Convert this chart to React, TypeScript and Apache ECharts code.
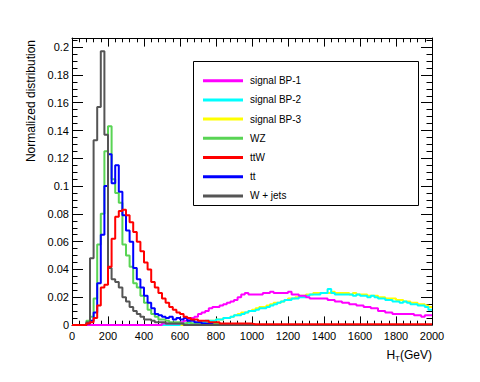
import React, { useEffect, useRef } from "react";
import * as echarts from "echarts";

// H_T bins: 20 GeV wide, from 0 to 2000 GeV (bin low edges = index * BIN_WIDTH)
const BIN_WIDTH = 20;
const X_MIN = 0;
const X_MAX = 2000;
const X_INTERVAL = 200;
const Y_MIN = 0;
const Y_MAX = 0.2066;
const Y_INTERVAL = 0.02;
const Y_MINOR = 0.005;

const seriesNames = ["signal BP-1", "signal BP-2", "signal BP-3", "WZ", "ttW", "tt", "W + jets"];

const signalBP1 = [
  0, 0, 0, 0, 0, 0, 0, 0, 0, 0,
  0, 0, 0, 0, 0, 0, 0, 0, 0, 0,
  0, 0, 0, 0, 0, 0.001, 0.001, 0.001, 0.001, 0.001,
  0.002, 0.003, 0.004, 0.005, 0.006, 0.008, 0.009, 0.010, 0.012, 0.013,
  0.013, 0.014, 0.015, 0.016, 0.017, 0.018, 0.020, 0.022, 0.023, 0.022,
  0.022, 0.022, 0.022, 0.023, 0.023, 0.024, 0.023, 0.023, 0.023, 0.023,
  0.024, 0.022, 0.022, 0.021, 0.021, 0.020, 0.019, 0.019, 0.019, 0.019,
  0.019, 0.018, 0.018, 0.017, 0.017, 0.016, 0.016, 0.015, 0.015, 0.014,
  0.014, 0.013, 0.013, 0.012, 0.012, 0.010, 0.010, 0.009, 0.009, 0.008,
  0.008, 0.008, 0.008, 0.008, 0.008, 0.007, 0.007, 0.006, 0.007, 0.007,
];

const signalBP2 = [
  0, 0, 0, 0, 0, 0, 0, 0, 0, 0,
  0, 0, 0, 0, 0, 0, 0, 0, 0, 0,
  0, 0, 0, 0, 0, 0, 0, 0, 0, 0,
  0.001, 0.001, 0.001, 0.001, 0.001, 0.002, 0.002, 0.003, 0.003, 0.003,
  0.004, 0.004, 0.005, 0.005, 0.006, 0.007, 0.007, 0.008, 0.009, 0.010,
  0.010, 0.011, 0.012, 0.012, 0.013, 0.014, 0.015, 0.016, 0.017, 0.018,
  0.018, 0.019, 0.019, 0.020, 0.020, 0.021, 0.022, 0.022, 0.022, 0.023,
  0.023, 0.026, 0.023, 0.022, 0.022, 0.022, 0.022, 0.022, 0.021, 0.022,
  0.021, 0.021, 0.020, 0.021, 0.020, 0.019, 0.019, 0.018, 0.018, 0.017,
  0.017, 0.016, 0.017, 0.016, 0.015, 0.015, 0.014, 0.014, 0.013, 0.011,
];

const signalBP3 = [
  0, 0, 0, 0, 0, 0, 0, 0, 0, 0,
  0, 0, 0, 0, 0, 0, 0, 0, 0, 0,
  0, 0, 0, 0, 0, 0, 0, 0, 0, 0,
  0, 0, 0, 0, 0, 0.001, 0.002, 0.002, 0.003, 0.003,
  0.004, 0.004, 0.005, 0.005, 0.006, 0.007, 0.008, 0.009, 0.009, 0.010,
  0.011, 0.012, 0.013, 0.013, 0.014, 0.015, 0.016, 0.016, 0.017, 0.018,
  0.019, 0.019, 0.020, 0.021, 0.021, 0.022, 0.022, 0.023, 0.023, 0.023,
  0.023, 0.023, 0.024, 0.023, 0.023, 0.023, 0.023, 0.022, 0.023, 0.022,
  0.022, 0.022, 0.021, 0.021, 0.021, 0.020, 0.020, 0.019, 0.019, 0.019,
  0.018, 0.018, 0.017, 0.017, 0.016, 0.016, 0.015, 0.015, 0.014, 0.013,
];

const wz = [
  0, 0, 0, 0, 0.003, 0.006, 0.019, 0.058, 0.080, 0.125,
  0.143, 0.105, 0.095, 0.088, 0.058, 0.050, 0.042, 0.030, 0.027, 0.021,
  0.016, 0.011, 0.008, 0.006, 0.004, 0.004, 0.003, 0.002, 0.002, 0.002,
  0.001, 0.001, 0.002, 0.001, 0.001, 0.001, 0, 0, 0.001, 0.001,
  0.001, 0, 0, 0, 0, 0, 0, 0, 0, 0,
  0, 0, 0, 0, 0, 0, 0, 0, 0, 0,
  0, 0, 0, 0, 0, 0, 0, 0, 0, 0,
  0, 0, 0, 0, 0, 0, 0, 0, 0, 0,
  0, 0, 0, 0, 0, 0, 0, 0, 0, 0,
  0, 0, 0, 0, 0, 0, 0, 0, 0, 0,
];

const ttw = [
  0, 0, 0, 0, 0.001, 0.002, 0.005, 0.014, 0.027, 0.029,
  0.042, 0.062, 0.078, 0.082, 0.083, 0.079, 0.074, 0.067, 0.060, 0.053,
  0.045, 0.040, 0.031, 0.027, 0.023, 0.019, 0.016, 0.013, 0.011, 0.009,
  0.008, 0.006, 0.005, 0.004, 0.004, 0.003, 0.003, 0.003, 0.002, 0.002,
  0.002, 0.001, 0.001, 0.001, 0.001, 0.001, 0.001, 0.001, 0.001, 0.001,
  0.0005, 0.0005, 0.0005, 0.0005, 0.0005, 0.0005, 0.0005, 0.0005, 0.0005, 0.0005,
  0.0005, 0.0005, 0.0005, 0.0005, 0.0005, 0.0005, 0.0005, 0.0005, 0.0005, 0.0005,
  0.0005, 0.0005, 0.0005, 0.0005, 0.0005, 0.0005, 0.0005, 0.0005, 0.0005, 0.0005,
  0.0005, 0.0005, 0.0005, 0.0005, 0.0005, 0.0005, 0.0005, 0.0005, 0.0005, 0.0005,
  0.0005, 0.0005, 0.0005, 0.0005, 0.0005, 0.0005, 0.0005, 0.0005, 0.0005, 0.0005,
];

const tt = [
  0, 0, 0, 0, 0.001, 0.003, 0.009, 0.030, 0.065, 0.100,
  0.123, 0.102, 0.115, 0.096, 0.079, 0.068, 0.060, 0.041, 0.033, 0.027,
  0.021, 0.016, 0.012, 0.008, 0.007, 0.006, 0.005, 0.006, 0.004, 0.005,
  0.004, 0.005, 0.003, 0.003, 0.002, 0.002, 0.001, 0.001, 0.001, 0,
  0, 0, 0, 0, 0, 0, 0, 0, 0, 0,
  0, 0, 0, 0, 0, 0, 0, 0, 0, 0,
  0, 0, 0, 0, 0, 0, 0, 0, 0, 0,
  0, 0, 0, 0, 0, 0, 0, 0, 0, 0,
  0, 0, 0, 0, 0, 0, 0, 0, 0, 0,
  0, 0, 0, 0, 0, 0, 0, 0, 0, 0,
];

const wJets = [
  0, 0, 0, 0, 0.002, 0.048, 0.133, 0.157, 0.197, 0.137,
  0.041, 0.033, 0.031, 0.027, 0.020, 0.017, 0.013, 0.010, 0.008, 0.006,
  0.004, 0.004, 0.003, 0.002, 0.002, 0.002, 0.001, 0.001, 0.001, 0.001,
  0.001, 0, 0, 0, 0, 0, 0, 0, 0, 0,
  0, 0, 0, 0, 0, 0, 0, 0, 0, 0,
  0, 0, 0, 0, 0, 0, 0, 0, 0, 0,
  0, 0, 0, 0, 0, 0, 0, 0, 0, 0,
  0, 0, 0, 0, 0, 0, 0, 0, 0, 0,
  0, 0, 0, 0, 0, 0, 0, 0, 0, 0,
  0, 0, 0, 0, 0, 0, 0, 0, 0, 0,
];

const FONT = "'Liberation Sans', Arial, Helvetica, sans-serif";

function histData(values: number[]) {
  const pts: [number, number][] = values.map((v, i) => [X_MIN + i * BIN_WIDTH, v]);
  pts.push([X_MIN + values.length * BIN_WIDTH, values[values.length - 1]]);
  return pts;
}

// drawing order: later = on top
const drawOrder = [
  { name: "signal BP-3", values: signalBP3, color: "#ffff00" },
  { name: "signal BP-2", values: signalBP2, color: "#00ffff" },
  { name: "signal BP-1", values: signalBP1, color: "#ff00ff" },
  { name: "WZ", values: wz, color: "#59d454" },
  { name: "tt", values: tt, color: "#0000ff" },
  { name: "W + jets", values: wJets, color: "#555555" },
  { name: "ttW", values: ttw, color: "#ff0000" },
];

const isMajorY = (v: number) => Math.abs(v / Y_INTERVAL - Math.round(v / Y_INTERVAL)) < 1e-6;

export default function App() {
  const ref = useRef<HTMLDivElement>(null);
  useEffect(() => {
    if (!ref.current) return;
    const chart = echarts.init(ref.current, null, { renderer: "svg" });
    const grid = { left: 72, top: 38, width: 360, height: 287, containLabel: false, outerBoundsMode: "none" };
    const xBase = {
      type: "value",
      min: X_MIN,
      max: X_MAX,
      interval: X_INTERVAL,
      splitLine: { show: false },
      axisLine: { show: true, onZero: false, lineStyle: { color: "#000", width: 1 } },
      axisTick: { show: true, inside: true, length: 8.6, lineStyle: { color: "#000", width: 1 } },
      minorTick: { show: true, splitNumber: 5, length: 4.3, lineStyle: { color: "#000", width: 1 } },
      minorSplitLine: { show: false },
    };
    const yBase = {
      type: "value",
      min: Y_MIN,
      max: Y_MAX,
      splitLine: { show: false },
      axisLine: { show: true, onZero: false, lineStyle: { color: "#000", width: 1 } },
    };
    const option: any = {
      animation: false,
      backgroundColor: "#ffffff",
      grid,
      xAxis: [
        {
          ...xBase,
          position: "bottom",
          axisLabel: {
            show: true,
            color: "#000",
            fontSize: 11,
            fontFamily: FONT,
            margin: 5,
            formatter: (v: number) => String(v),
          },
        },
        { ...xBase, position: "top", axisLabel: { show: false } },
      ],
      yAxis: [
        {
          ...yBase,
          position: "left",
          interval: Y_INTERVAL,
          axisTick: { show: true, inside: true, length: 11, lineStyle: { color: "#000" } },
          axisLabel: {
            show: true,
            color: "#000",
            fontSize: 11,
            fontFamily: FONT,
            margin: 3,
            formatter: (v: number) => (isMajorY(v) ? String(+v.toFixed(2)) : ""),
          },
        },
        {
          ...yBase,
          position: "left",
          interval: Y_MINOR,
          axisLine: { show: false, onZero: false },
          axisTick: { show: true, inside: true, length: 5.5, lineStyle: { color: "#000" } },
          axisLabel: { show: false },
        },
        {
          ...yBase,
          position: "right",
          interval: Y_INTERVAL,
          axisTick: { show: true, inside: true, length: 11, lineStyle: { color: "#000" } },
          axisLabel: { show: false },
        },
        {
          ...yBase,
          position: "right",
          interval: Y_MINOR,
          axisLine: { show: false, onZero: false },
          axisTick: { show: true, inside: true, length: 5.5, lineStyle: { color: "#000" } },
          axisLabel: { show: false },
        },
      ],
      legend: {
        data: seriesNames,
        orient: "vertical",
        left: 203,
        top: 73.7,
        padding: 0,
        itemWidth: 40,
        itemHeight: 3,
        itemGap: 5.2,
        icon: "rect",
        selectedMode: false,
        textStyle: { color: "#000", fontSize: 10, fontFamily: FONT, lineHeight: 14, padding: [0, 0, 0, 2] },
      },
      graphic: [
        {
          type: "rect",
          shape: { x: 193.5, y: 61.5, width: 225, height: 144 },
          style: { fill: "rgba(0,0,0,0)", stroke: "#000", lineWidth: 1 },
          silent: true,
        },
        {
          type: "text",
          x: 31,
          y: 40,
          rotation: Math.PI / 2,
          style: {
            text: "Normalized distribution",
            fontSize: 12,
            fontFamily: FONT,
            fill: "#000",
            align: "right",
            verticalAlign: "middle",
          },
          silent: true,
        },
        {
          type: "text",
          x: 432,
          y: 355,
          style: {
            text: "{a|H}{b|T}{a|(GeV)}",
            align: "right",
            verticalAlign: "middle",
            fill: "#000",
            rich: {
              a: { fontSize: 12, fontFamily: FONT, fill: "#000" },
              b: { fontSize: 8, fontFamily: FONT, fill: "#000", padding: [7, 0, 0, 0] },
            },
          },
          silent: true,
        },
      ],
      series: drawOrder.map((s) => ({
        name: s.name,
        type: "line",
        step: "end",
        xAxisIndex: 0,
        yAxisIndex: 0,
        data: histData(s.values),
        showSymbol: false,
        symbol: "none",
        clip: false,
        silent: true,
        lineStyle: { color: s.color, width: 2 },
        itemStyle: { color: s.color },
        emphasis: { disabled: true },
      })),
    };
    chart.setOption(option);
    return () => chart.dispose();
  }, []);
  return (
    <div
      ref={ref}
      style={{ position: "absolute", left: 0, top: 0, width: 480, height: 382, background: "#fff" }}
    />
  );
}
